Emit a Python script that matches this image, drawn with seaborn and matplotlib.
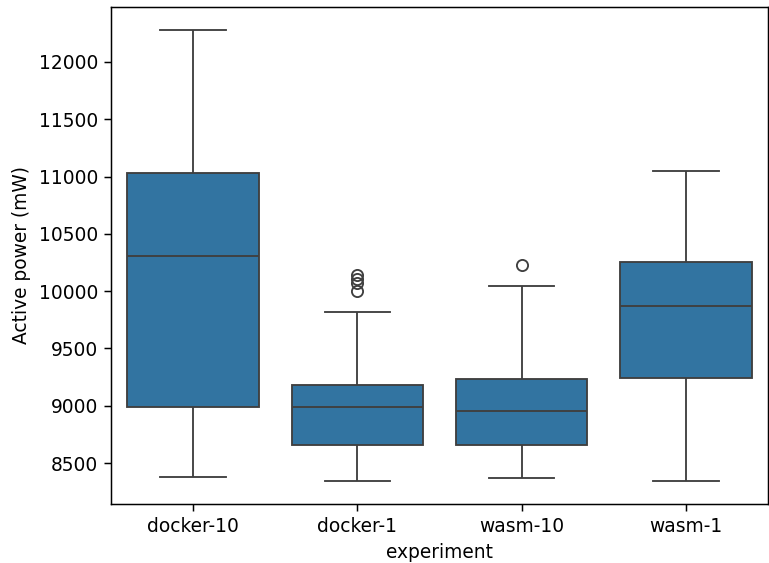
import pandas as pd
import seaborn as sns
import matplotlib.pyplot as plt

experiments = ["docker-10", "docker-1", "wasm-10", "wasm-1"]

docker10 = [8375, 8520, 8640, 8770, 8880, 8989, 9250, 9520, 9780, 10050, 10307,
            10450, 10600, 10740, 10890, 11028, 11250, 11500, 11760, 12010, 12282]
docker1 = [8340, 8420, 8500, 8570, 8620, 8660, 8720, 8790, 8860, 8930, 8985,
           9020, 9060, 9100, 9140, 9181, 9818, 10000, 10070, 10110, 10140]
wasm10 = [8372, 8440, 8510, 8570, 8620, 8662, 8710, 8770, 8830, 8890, 8954,
          9010, 9070, 9120, 9180, 9236, 9420, 9630, 9850, 10041, 10228]
wasm1 = [8346, 8520, 8700, 8880, 9060, 9238, 9360, 9490, 9620, 9750, 9873,
         9950, 10030, 10110, 10180, 10254, 10420, 10580, 10740, 10900, 11051]

values = [docker10, docker1, wasm10, wasm1]
df = pd.DataFrame({
    "experiment": [e for e, v in zip(experiments, values) for _ in v],
    "Active power (mW)": [x for v in values for x in v],
})

DPI = 134
fig, ax = plt.subplots(figsize=(769 / DPI, 563 / DPI), dpi=DPI)
fig.subplots_adjust(left=111 / 769, right=768 / 769, top=1 - 7 / 563, bottom=1 - 504 / 563)

sns.boxplot(data=df, x="experiment", y="Active power (mW)", order=experiments, ax=ax)

fig.savefig("out.png", dpi=DPI)
